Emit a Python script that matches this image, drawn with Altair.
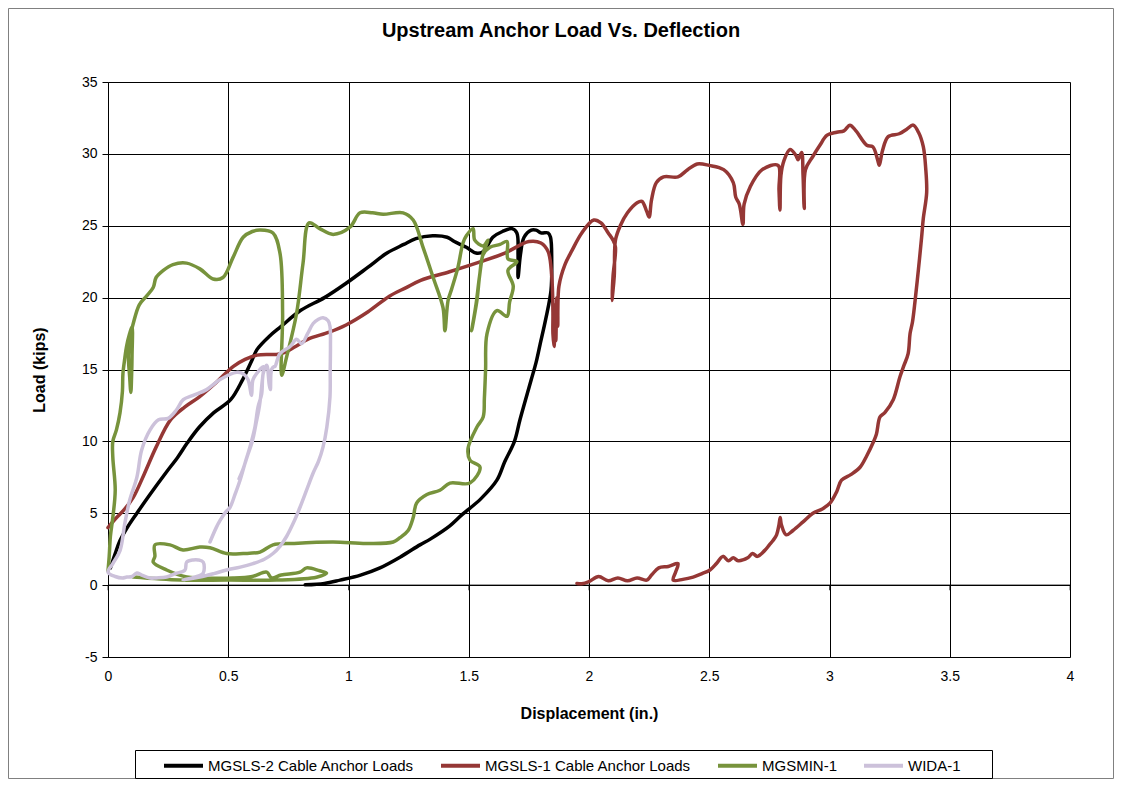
import altair as alt
import pandas as pd

# ---------------- data ----------------
x_ticks = [0, 0.5, 1, 1.5, 2, 2.5, 3, 3.5, 4]
y_ticks = [-5, 0, 5, 10, 15, 20, 25, 30, 35]
series_names = ["MGSLS-2 Cable Anchor Loads", "MGSLS-1 Cable Anchor Loads", "MGSMIN-1", "WIDA-1"]
series_colors = ["#000000", "#953735", "#77933C", "#CCC1DA"]

mgsls2_x = [0.01, 0.03, 0.05, 0.08, 0.12, 0.17, 0.24, 0.29, 0.33, 0.38, 0.44, 0.51, 0.56, 0.60, 0.62, 0.67,
            0.72, 0.80, 0.90, 0.99, 1.08, 1.16, 1.23, 1.28, 1.35, 1.41, 1.44, 1.49, 1.53, 1.56, 1.60, 1.64,
            1.68, 1.70, 1.705, 1.705, 1.715, 1.73, 1.76, 1.78, 1.80, 1.83, 1.84, 1.845, 1.842, 1.82, 1.796,
            1.78, 1.76, 1.713, 1.69, 1.65, 1.617, 1.55, 1.472, 1.42, 1.34, 1.297, 1.22, 1.131, 1.05, 0.965,
            0.90, 0.82]
mgsls2_y = [1.2, 2.2, 3.1, 4.0, 5.0, 6.2, 7.8, 8.9, 9.9, 11.0, 12.0, 12.9, 14.3, 15.7, 16.4, 17.3,
            18.0, 19.1, 20.0, 21.0, 22.1, 23.1, 23.7, 24.1, 24.3, 24.2, 23.9, 23.5, 23.1, 23.2, 24.2, 24.6,
            24.8, 24.5, 23.0, 21.4, 23.0, 24.2, 24.7, 24.7, 24.5, 24.5, 24.2, 22.5, 20.5, 18.5, 16.7,
            15.5, 14.3, 11.5, 10.0, 8.6, 7.3, 6.0, 4.9, 4.1, 3.2, 2.8, 2.0, 1.2, 0.7, 0.35,
            0.12, 0.02]

mgsls1_x = [0.0, 0.03, 0.07, 0.105, 0.15, 0.2, 0.26, 0.32, 0.38, 0.45, 0.52, 0.57, 0.62, 0.72, 0.78, 0.83,
            0.92, 0.99, 1.08, 1.17, 1.24, 1.3, 1.42, 1.55, 1.65, 1.75, 1.8, 1.83, 1.845, 1.85, 1.85, 1.855,
            1.858, 1.862, 1.866, 1.87, 1.875, 1.9, 1.93, 1.97, 2.02, 2.05, 2.08, 2.1, 2.11, 2.1, 2.095, 2.105,
            2.11, 2.13, 2.16, 2.2, 2.22, 2.24, 2.25, 2.26, 2.28, 2.31, 2.37, 2.41, 2.45, 2.5, 2.56, 2.6,
            2.61, 2.625, 2.64, 2.645, 2.67, 2.72, 2.786, 2.79, 2.794, 2.798, 2.81, 2.836, 2.86, 2.869, 2.884,
            2.89, 2.895, 2.9, 2.93, 2.96, 2.99, 3.03, 3.06, 3.085, 3.11, 3.155, 3.18, 3.2, 3.207, 3.22, 3.244,
            3.29, 3.32, 3.348, 3.37, 3.39, 3.4, 3.404, 3.39, 3.383, 3.37, 3.356, 3.345, 3.335, 3.327, 3.31,
            3.293, 3.265, 3.23, 3.21, 3.195, 3.181, 3.155, 3.127, 3.09, 3.05, 3.03, 3.002, 2.97, 2.931, 2.89,
            2.848, 2.82, 2.8, 2.795, 2.79, 2.78, 2.765, 2.75, 2.73, 2.7, 2.68, 2.66, 2.62, 2.6, 2.58, 2.557,
            2.53, 2.503, 2.47, 2.433, 2.39, 2.35, 2.36, 2.37, 2.33, 2.29, 2.26, 2.24, 2.2, 2.16, 2.12, 2.08,
            2.04, 2.0, 1.97, 1.95]
mgsls1_y = [4.0, 4.6, 5.3, 6.1, 7.7, 9.6, 11.5, 12.4, 13.1, 14.1, 15.2, 15.7, 16.0, 16.1, 16.6, 17.1,
            17.6, 18.1, 19.0, 20.1, 20.7, 21.2, 21.8, 22.5, 23.1, 23.9, 23.8, 23.2, 21.5, 19.0, 17.5, 16.6,
            19.5, 17.0, 20.0, 18.0, 20.8, 22.3, 23.3, 24.5, 25.4, 25.2, 24.5, 24.0, 23.5, 21.5, 19.8, 21.5,
            24.0, 25.0, 25.9, 26.6, 26.7, 26.0, 25.6, 26.8, 28.0, 28.4, 28.4, 28.9, 29.3, 29.2, 28.9, 28.0,
            27.0, 26.5, 25.1, 26.5, 27.7, 28.9, 29.2, 27.5, 26.1, 28.5, 29.5, 30.3, 29.9, 29.6, 30.1,
            28.5, 26.2, 28.9, 29.8, 30.6, 31.3, 31.5, 31.6, 32.0, 31.6, 30.6, 30.5, 29.6, 29.2, 30.2, 31.2,
            31.4, 31.7, 32.0, 31.5, 30.5, 29.0, 27.3, 25.5, 24.2, 22.0, 19.8, 18.3, 17.5, 16.1, 15.3,
            14.5, 12.9, 12.0, 11.7, 10.5, 9.9, 9.0, 8.2, 7.7, 7.3, 6.5, 5.7, 5.3, 5.0, 4.4,
            3.8, 3.5, 4.2, 4.7, 4.2, 3.5, 3.1, 2.8, 2.4, 2.0, 2.2, 1.9, 1.7, 1.9, 1.7, 2.0,
            1.5, 1.05, 0.8, 0.56, 0.4, 0.35, 0.9, 1.5, 1.3, 1.2, 0.7, 0.35, 0.5, 0.3, 0.5, 0.3,
            0.6, 0.25, 0.1, 0.12]

mgsmin1_x = [0.0, 0.005, 0.01, 0.02, 0.03, 0.02, 0.02, 0.035, 0.05, 0.06, 0.062, 0.07, 0.077, 0.09, 0.1,
             0.1, 0.098, 0.095, 0.09, 0.085, 0.095, 0.105, 0.13, 0.16, 0.188, 0.2, 0.23, 0.27, 0.327,
             0.382, 0.437, 0.478, 0.52, 0.562, 0.6, 0.632, 0.686, 0.715, 0.726, 0.722, 0.743, 0.784, 0.811,
             0.836, 0.88, 0.936, 1.006, 1.048, 1.1, 1.144, 1.227, 1.269, 1.31, 1.352, 1.393, 1.401, 1.414,
             1.429, 1.455, 1.476, 1.49, 1.518, 1.525, 1.56, 1.58, 1.56, 1.545, 1.534, 1.512, 1.53, 1.545,
             1.56, 1.588, 1.63, 1.659, 1.663, 1.7, 1.663, 1.685, 1.67, 1.659, 1.617, 1.576, 1.57, 1.565,
             1.56, 1.534, 1.497, 1.505, 1.547, 1.505, 1.422, 1.38, 1.326, 1.283, 1.269, 1.248, 1.214, 1.186,
             1.075, 0.936, 0.77, 0.686, 0.632, 0.562, 0.493, 0.424, 0.382, 0.312, 0.258, 0.195, 0.195,
             0.188, 0.244, 0.327, 0.382, 0.52, 0.6, 0.66, 0.68, 0.72, 0.798, 0.826, 0.88, 0.909, 0.867,
             0.7, 0.5, 0.3, 0.105]
mgsmin1_y = [1.0, 2.0, 3.4, 4.7, 6.6, 8.9, 10.0, 10.8, 12.0, 13.5, 14.7, 15.8, 16.6, 17.5, 18.0,
             16.0, 14.5, 13.4, 14.5, 16.0, 17.5, 18.2, 19.5, 20.1, 20.7, 21.4, 21.9, 22.3, 22.4,
             22.0, 21.3, 21.4, 22.8, 24.2, 24.6, 24.7, 24.5, 23.1, 18.9, 14.6, 15.9, 18.9, 22.4,
             25.2, 24.8, 24.4, 24.9, 25.9, 25.9, 25.8, 25.9, 25.4, 23.5, 21.4, 19.3, 17.7, 19.8,
             20.6, 22.1, 23.8, 24.3, 24.8, 24.0, 23.6, 24.0, 23.1, 21.5, 19.8, 17.7, 19.5, 21.5,
             23.0, 23.5, 23.7, 23.9, 22.7, 22.5, 21.9, 20.8, 19.7, 18.7, 19.1, 17.5, 15.0, 13.0,
             11.7, 11.0, 9.5, 8.7, 8.2, 7.1, 7.1, 6.6, 6.3, 5.7, 4.7, 3.8, 3.3, 3.0,
             2.9, 3.0, 2.9, 2.8, 2.3, 2.2, 2.2, 2.6, 2.65, 2.45, 2.8, 2.8, 2.0,
             1.6, 1.05, 0.56, 0.5, 0.49, 0.6, 0.9, 0.5, 0.7, 0.9, 1.2, 1.0, 0.84, 0.55,
             0.35, 0.35, 0.35, 0.56]

wida1_x = [0.424, 0.45, 0.466, 0.49, 0.507, 0.53, 0.549, 0.57, 0.59, 0.611, 0.624, 0.639, 0.645, 0.66,
           0.67, 0.675, 0.68, 0.69, 0.694, 0.715, 0.757, 0.784, 0.805, 0.83, 0.853, 0.875, 0.894, 0.915,
           0.923, 0.925, 0.924, 0.923, 0.91, 0.894, 0.875, 0.853, 0.83, 0.798, 0.77, 0.743, 0.715, 0.686,
           0.65, 0.603, 0.55, 0.493, 0.44, 0.382, 0.312, 0.37, 0.396, 0.396, 0.375, 0.354, 0.327, 0.32,
           0.28, 0.244, 0.2, 0.175, 0.14, 0.12, 0.1, 0.078, 0.06, 0.03, 0.0, 0.02, 0.05, 0.07, 0.09,
           0.12, 0.14, 0.175, 0.21, 0.25, 0.285, 0.313, 0.354, 0.41, 0.466, 0.535, 0.562, 0.582, 0.597,
           0.603, 0.632, 0.645, 0.64, 0.63, 0.615, 0.6, 0.58, 0.56, 0.545]
wida1_y = [3.0, 4.0, 4.5, 5.1, 5.4, 6.4, 7.3, 8.5, 9.6, 11.0, 12.4, 13.3, 14.7, 15.3,
           14.0, 13.6, 15.0, 15.2, 15.2, 16.1, 16.6, 17.1, 16.8, 17.5, 18.2, 18.5, 18.6, 18.4,
           18.0, 16.6, 15.0, 13.1, 11.0, 9.6, 8.6, 7.8, 6.8, 5.4, 4.3, 3.4, 2.7, 2.2,
           1.8, 1.5, 1.25, 1.05, 0.8, 0.56, 0.35, 0.6, 0.84, 1.6, 1.75, 1.75, 1.6, 1.05,
           0.8, 0.56, 0.5, 0.49, 0.7, 0.84, 0.6, 0.56, 0.5, 0.6, 0.9, 1.5, 2.4, 4.3, 5.9,
           7.5, 9.4, 10.8, 11.5, 11.6, 12.2, 12.9, 13.2, 13.6, 14.3, 14.8, 14.7, 14.3, 13.2,
           14.3, 15.0, 15.2, 14.0, 12.5, 11.2, 10.0, 9.0, 8.0, 7.4]

series_x = [mgsls2_x, mgsls1_x, mgsmin1_x, wida1_x]
series_y = [mgsls2_y, mgsls1_y, mgsmin1_y, wida1_y]

rows = []
for name, xs, ys in zip(series_names, series_x, series_y):
    for i, (xv, yv) in enumerate(zip(xs, ys)):
        rows.append({"series": name, "i": i, "x": xv, "y": yv})
df = pd.DataFrame(rows)

FONT = "Liberation Sans"
PLOT_W, PLOT_H = 962, 575
PAD_L, PAD_T = 100, 74

x_scale = alt.Scale(domain=[0, 4], nice=False, zero=False)
y_scale = alt.Scale(domain=[-5, 35], nice=False, zero=False)

x_axis = alt.Axis(values=x_ticks, title="Displacement (in.)", grid=True, gridColor="black",
                  gridWidth=1, gridOpacity=1, ticks=False, domain=False, labelPadding=12,
                  labelFont=FONT, labelFontSize=14, labelColor="black", labelFlush=False,
                  labelExpr="datum.value + ''",
                  titleFont=FONT, titleFontSize=16, titleFontWeight="bold", titleColor="black",
                  titlePadding=22)
y_axis = alt.Axis(values=y_ticks, title="Load (kips)", grid=True, gridColor="black",
                  gridWidth=1, gridOpacity=1, ticks=True, tickSize=6, tickColor="black",
                  domain=True, domainColor="black", labelPadding=5,
                  labelFont=FONT, labelFontSize=14, labelColor="black", labelFlush=False,
                  labelExpr="datum.value + ''",
                  titleFont=FONT, titleFontSize=16, titleFontWeight="bold", titleColor="black",
                  titlePadding=34)

X = alt.X("x:Q", scale=x_scale, axis=x_axis)
Y = alt.Y("y:Q", scale=y_scale, axis=y_axis)

color = alt.Color("series:N",
                  scale=alt.Scale(domain=series_names, range=series_colors),
                  legend=alt.Legend(title=None, orient="none", legendX=54, legendY=662,
                                    direction="horizontal", columns=4, symbolType="stroke",
                                    symbolSize=1521, symbolStrokeWidth=4, labelFont=FONT,
                                    labelFontSize=15, labelColor="black", labelLimit=400,
                                    labelOffset=3, columnPadding=19, padding=0))

base = alt.Chart(df)
layers = []
for name in series_names:
    layers.append(
        base.transform_filter(alt.datum.series == name)
        .mark_line(strokeWidth=3.5, strokeJoin="round", strokeCap="round",
                   interpolate="catmull-rom")
        .encode(x=X, y=Y, color=color, order=alt.Order("i:Q"))
    )

zero_line = alt.Chart(pd.DataFrame({"y": [0]})).mark_rule(color="black", strokeWidth=1).encode(y=Y)
zero_ticks = alt.Chart(pd.DataFrame({"x": x_ticks, "y": [0] * len(x_ticks)})).mark_tick(
    orient="vertical", size=5, thickness=1, color="black", yOffset=2.5).encode(x=X, y=Y)

# decorative frames (legend box and chart-area border), in pixels
frame = pd.DataFrame({"a": [0]})
legend_box = alt.Chart(frame).mark_rect(fill="white", stroke="black", strokeWidth=1).encode(
    x=alt.value(27.5), x2=alt.value(884.5), y=alt.value(668.5), y2=alt.value(696.5))
outer_box = alt.Chart(frame).mark_rect(fill=None, stroke="#808080", strokeWidth=1).encode(
    x=alt.value(-PAD_L + 0.5), x2=alt.value(PLOT_W + 43.5),
    y=alt.value(-PAD_T + 0.5), y2=alt.value(PLOT_H + 121.5))

chart = alt.layer(outer_box, legend_box, zero_line, zero_ticks, *layers).properties(
    width=PLOT_W, height=PLOT_H,
    autosize=alt.AutoSizeParams(type="none"),
    padding={"left": PAD_L, "top": PAD_T, "right": 44, "bottom": 122},
    title=alt.TitleParams("Upstream Anchor Load Vs. Deflection", font=FONT, fontSize=20,
                          fontWeight="bold", color="black", anchor="middle", dx=-28, offset=-33),
).configure_view(stroke="#808080", strokeWidth=1).configure(background="white")

chart.save("out.html", embed_options={"renderer": "svg", "actions": False})
